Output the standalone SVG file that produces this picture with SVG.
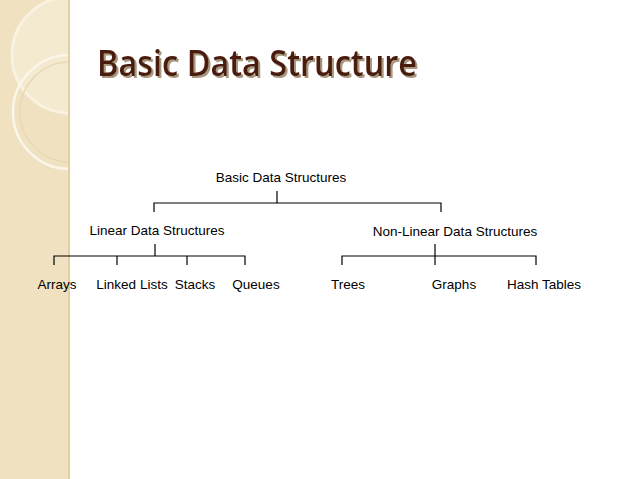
<svg xmlns="http://www.w3.org/2000/svg" width="638" height="479" viewBox="0 0 638 479">
<style>
.t{font-family:"Liberation Sans",Arial,sans-serif;font-size:13.5px;fill:#000;text-anchor:middle}
.c{stroke:#000;stroke-width:1.2;fill:none}
.h{font-family:"Open Sans","Liberation Sans",sans-serif;font-size:36px;font-weight:600;fill:#4a1a0c}
</style>
<defs>
<clipPath id="cp"><rect x="0" y="0" width="70" height="479"/></clipPath>
<filter id="sh" x="-5%" y="-20%" width="110%" height="150%"><feDropShadow dx="2" dy="2" stdDeviation="0.6" flood-color="#a89880"/></filter>
</defs>
<rect width="638" height="479" fill="#fff"/>
<g id="side">
<rect x="0" y="0" width="70" height="479" fill="#f0e2c0"/>
<g clip-path="url(#cp)">
<circle cx="70" cy="55" r="58" fill="#f6ecd4" stroke="#fbf6ea" stroke-width="3" opacity="0.8"/>
<circle cx="70" cy="112" r="57" fill="none" stroke="#fbf6ea" stroke-width="2.5"/>
<circle cx="70" cy="112" r="50" fill="none" stroke="#e8d9b6" stroke-width="1.5"/>
</g>
<rect x="68" y="0" width="2" height="479" fill="#e3cfa2"/>
</g>
<g id="title">
<text x="97" y="76" class="h" textLength="320" lengthAdjust="spacingAndGlyphs" filter="url(#sh)">Basic Data Structure</text>
</g>
<g id="connectors">
<path class="c" d="M277 191V203M154 212V203H441V212"/>
<path class="c" d="M155 244V256M54 265V256H245V265M117 256V265M187 256V265"/>
<path class="c" d="M435 244V265M342 265V256H536V265"/>
</g>
<g id="n-root"><text class="t" x="281" y="182">Basic Data Structures</text></g>
<g id="n-linear"><text class="t" x="157" y="235">Linear Data Structures</text></g>
<g id="n-nonlinear"><text class="t" x="455" y="236">Non-Linear Data Structures</text></g>
<g id="n-arrays"><text class="t" x="57" y="289">Arrays</text></g>
<g id="n-linked"><text class="t" x="132" y="289">Linked Lists</text></g>
<g id="n-stacks"><text class="t" x="195" y="289">Stacks</text></g>
<g id="n-queues"><text class="t" x="256" y="289">Queues</text></g>
<g id="n-trees"><text class="t" x="348" y="289">Trees</text></g>
<g id="n-graphs"><text class="t" x="454" y="289">Graphs</text></g>
<g id="n-hash"><text class="t" x="544" y="289">Hash Tables</text></g>
</svg>
